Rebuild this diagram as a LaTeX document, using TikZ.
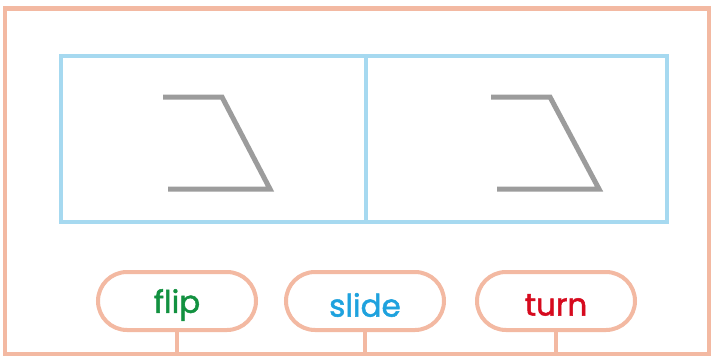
\documentclass[tikz,border=0pt]{standalone}
\usepackage{fontspec}
\setmainfont{Poppins}
\newfontfamily\pillfont[FakeBold=1.6]{Poppins}
\begin{document}
\begin{tikzpicture}[x=1pt,y=-1pt,
  frame/.style={draw=salmon,line width=4.5pt},
  panel/.style={draw=skyline,line width=3.5pt},
  glyph/.style={draw=shapegray,line width=5pt,line join=miter},
  pill/.style={draw=salmon,line width=4pt,fill=white,rounded corners=29pt,minimum width=158pt,minimum height=58pt,inner sep=0pt},
  pilltext/.style={font=\pillfont\fontsize{31}{31}\selectfont},
  stem/.style={draw=salmon,line width=4pt}]
\definecolor{salmon}{HTML}{F3B9A2}
\definecolor{skyline}{HTML}{A6D9F0}
\definecolor{shapegray}{HTML}{9C9C9C}
\definecolor{flipgreen}{HTML}{129140}
\definecolor{slideblue}{HTML}{1EA2DE}
\definecolor{turnred}{HTML}{D60A1E}
\useasboundingbox (0,0) rectangle (713,356);
\fill[white] (0,0) rectangle (713,356);
\draw[frame] (5,8.5) rectangle (709,354);
\draw[panel] (61,56) rectangle (667,222);
\draw[panel] (366,56) -- (366,222);
% left shape
\draw[glyph] (163,97) -- (222,97) -- (270,189) -- (168,189);
% right shape
\draw[glyph] (491,97) -- (550,97) -- (599,189) -- (497,189);
% pills
\node[pill] (flip) at (177,301) {};
\node[pill] (slide) at (365,301) {};
\node[pill] (turn) at (556,301) {};
\node[pilltext,text=flipgreen] (fliplabel) at ([yshift=-4pt]flip.center) {flip};
\node[pilltext,text=slideblue] (slidelabel) at ([yshift=-4pt]slide.center) {slide};
\node[pilltext,text=turnred] (turnlabel) at ([yshift=-4pt]turn.center) {turn};
\coordinate (fb) at (177,354);
\coordinate (sb) at (365,354);
\coordinate (tb) at (556,354);
\draw[stem] (flip.south) -- (fb);
\draw[stem] (slide.south) -- (sb);
\draw[stem] (turn.south) -- (tb);
\end{tikzpicture}
\end{document}
